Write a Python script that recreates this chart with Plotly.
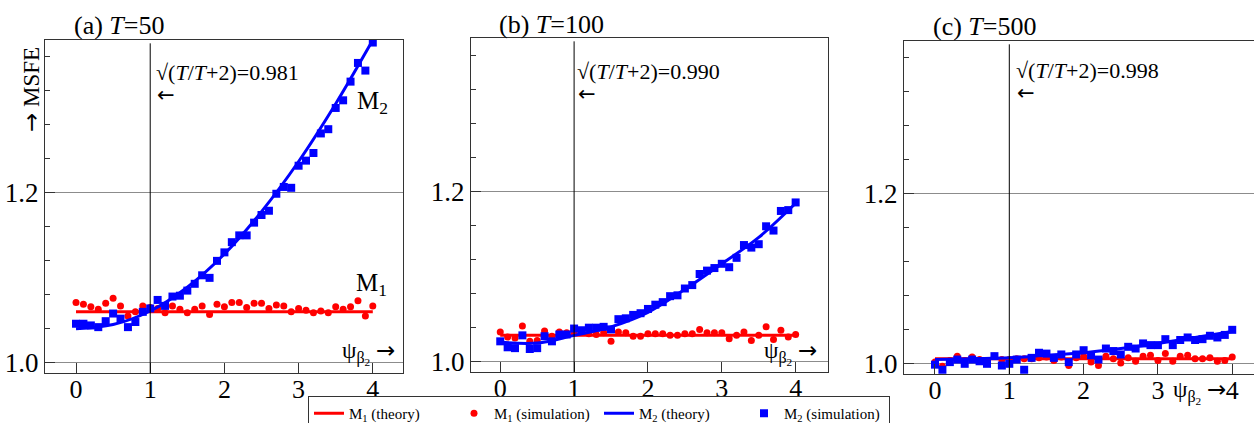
import plotly.graph_objects as go

W, H = 1254, 423
SERIF = "Liberation Serif"
ARROW_FONT = "DejaVu Sans"

# shrinkage parameter grid (simulation points) and grid for the theory curves
psi = [0.0, 0.1, 0.2, 0.3, 0.4, 0.5, 0.6, 0.7, 0.8, 0.9,
       1.0, 1.1, 1.2, 1.3, 1.4, 1.5, 1.6, 1.7, 1.8, 1.9,
       2.0, 2.1, 2.2, 2.3, 2.4, 2.5, 2.6, 2.7, 2.8, 2.9,
       3.0, 3.1, 3.2, 3.3, 3.4, 3.5, 3.6, 3.7, 3.8, 3.9, 4.0]
psi_theory = [0.0, 0.5, 1.0, 1.5, 2.0, 2.5, 3.0, 3.5, 4.0]

# (a) T = 50
a_m1_theory = [1.060, 1.060, 1.060, 1.060, 1.060, 1.060, 1.060, 1.060, 1.060]
a_m2_theory = [1.040, 1.045, 1.061, 1.089, 1.128, 1.178, 1.237, 1.305, 1.380]
a_m1_sim = [1.071, 1.069, 1.066, 1.063, 1.070, 1.076, 1.067, 1.055, 1.060, 1.067,
            1.065, 1.064, 1.059, 1.067, 1.063, 1.059, 1.063, 1.067, 1.057, 1.069,
            1.066, 1.071, 1.071, 1.065, 1.070, 1.070, 1.064, 1.068, 1.067, 1.060,
            1.064, 1.062, 1.059, 1.061, 1.059, 1.066, 1.063, 1.066, 1.073, 1.055, 1.067]
a_m2_sim = [1.046, 1.046, 1.044, 1.042, 1.049, 1.058, 1.052, 1.042, 1.048, 1.060,
            1.064, 1.074, 1.067, 1.078, 1.079, 1.085, 1.093, 1.103, 1.100, 1.120,
            1.130, 1.142, 1.150, 1.150, 1.165, 1.174, 1.179, 1.199, 1.207, 1.206,
            1.232, 1.238, 1.247, 1.270, 1.275, 1.300, 1.309, 1.331, 1.353, 1.344, 1.377]

# (b) T = 100
b_m1_theory = [1.031, 1.031, 1.031, 1.031, 1.031, 1.031, 1.031, 1.031, 1.031]
b_m2_theory = [1.023, 1.022, 1.031, 1.041, 1.058, 1.085, 1.115, 1.146, 1.186]
b_m1_sim = [1.035, 1.029, 1.028, 1.042, 1.024, 1.025, 1.036, 1.030, 1.035, 1.034,
            1.034, 1.035, 1.033, 1.032, 1.034, 1.024, 1.035, 1.034, 1.030, 1.030,
            1.033, 1.033, 1.033, 1.031, 1.031, 1.033, 1.033, 1.038, 1.034, 1.034,
            1.034, 1.027, 1.031, 1.035, 1.025, 1.031, 1.041, 1.026, 1.037, 1.029, 1.032]
b_m2_sim = [1.024, 1.017, 1.016, 1.031, 1.015, 1.016, 1.030, 1.024, 1.032, 1.032,
            1.039, 1.037, 1.040, 1.040, 1.041, 1.038, 1.050, 1.051, 1.055, 1.057,
            1.062, 1.067, 1.070, 1.077, 1.078, 1.086, 1.090, 1.103, 1.107, 1.110,
            1.115, 1.111, 1.122, 1.137, 1.134, 1.138, 1.159, 1.154, 1.177, 1.178, 1.187]

# (c) T = 500
c_m1_theory = [1.006, 1.006, 1.006, 1.006, 1.006, 1.006, 1.006, 1.006, 1.006]
c_m2_theory = [1.005, 1.006, 1.007, 1.010, 1.013, 1.018, 1.024, 1.031, 1.038]
c_m1_sim = [1.002, 0.997, 1.004, 1.009, 1.004, 1.008, 1.005, 1.004, 1.009, 1.005,
            1.005, 1.006, 1.006, 1.006, 1.007, 1.008, 1.004, 1.008, 0.998, 1.007,
            1.009, 1.002, 0.998, 1.009, 1.006, 1.001, 1.007, 1.003, 1.009, 1.010,
            1.004, 1.012, 1.003, 1.009, 1.010, 1.006, 1.006, 1.007, 1.003, 1.004, 1.008]
c_m2_sim = [0.999, 0.993, 1.002, 1.005, 1.000, 1.005, 1.003, 1.000, 1.009, 0.998,
            1.000, 1.005, 0.993, 1.007, 1.013, 1.012, 1.007, 1.011, 1.002, 1.011,
            1.016, 1.010, 1.005, 1.018, 1.015, 1.011, 1.020, 1.018, 1.024, 1.022,
            1.022, 1.029, 1.022, 1.028, 1.031, 1.028, 1.029, 1.033, 1.031, 1.034, 1.040]

panel_titles = ["(a) <i>T</i>=50", "(b) <i>T</i>=100", "(c) <i>T</i>=500"]
ratio_labels = ["0.981", "0.990", "0.998"]
x_ticks = [0, 1, 2, 3, 4]
y_ticks = [1.0, 1.2]
y_tick_text = ["1.0", "1.2"]
y_minor = [1.04, 1.08, 1.12, 1.16, 1.24, 1.28, 1.32, 1.36]

RED = "#ff0000"
BLUE = "#0000ff"
AXIS = "#333333"
GRID = "#8c8c8c"


def px_x(p):
    return p / W


def px_y(p):
    return 1 - p / H


def arrow(ch):
    return f'<span style="font-family:{ARROW_FONT}">{ch}</span>'


# pixel boxes of the three panels: left, right, top, bottom
boxes = [(45, 403, 40, 373), (471, 828, 38, 372), (904, 1254, 41, 374)]
x_ranges = [[-0.418, 4.407], [-0.396, 4.438], [-0.417, 4.293]]
y_range = [0.988, 1.380]

series = [
    (a_m1_theory, a_m1_sim, a_m2_theory, a_m2_sim),
    (b_m1_theory, b_m1_sim, b_m2_theory, b_m2_sim),
    (c_m1_theory, c_m1_sim, c_m2_theory, c_m2_sim),
]

fig = go.Figure()

for i, (m1t, m1s, m2t, m2s) in enumerate(series):
    xa = "x" if i == 0 else f"x{i + 1}"
    ya = "y" if i == 0 else f"y{i + 1}"
    first = i == 0
    fig.add_trace(go.Scatter(
        x=psi_theory, y=m1t, mode="lines", line=dict(color=RED, width=3, shape="spline"),
        name="M<sub>1</sub> (theory)", showlegend=first, xaxis=xa, yaxis=ya))
    fig.add_trace(go.Scatter(
        x=psi, y=m1s, mode="markers", marker=dict(color=RED, size=7, symbol="circle"),
        name="M<sub>1</sub> (simulation)", showlegend=first, xaxis=xa, yaxis=ya))
    fig.add_trace(go.Scatter(
        x=psi_theory, y=m2t, mode="lines", line=dict(color=BLUE, width=3, shape="spline"),
        name="M<sub>2</sub> (theory)", showlegend=first, xaxis=xa, yaxis=ya))
    fig.add_trace(go.Scatter(
        x=psi, y=m2s, mode="markers", marker=dict(color=BLUE, size=8, symbol="square"),
        name="M<sub>2</sub> (simulation)", showlegend=first, xaxis=xa, yaxis=ya))

layout = {}
for i, (l, r, t, b) in enumerate(boxes):
    sfx = "" if i == 0 else str(i + 1)
    layout[f"xaxis{sfx}"] = dict(
        domain=[px_x(l), px_x(r)], range=x_ranges[i], anchor=f"y{sfx}",
        showline=True, linecolor=AXIS, linewidth=1, mirror=True,
        ticks="inside", ticklen=10, tickcolor=AXIS, tickvals=x_ticks,
        tickfont=dict(family=SERIF, size=26, color="black"),
        ticklabelstandoff=-7,
        showgrid=False, zeroline=False)
    layout[f"yaxis{sfx}"] = dict(
        domain=[px_y(b), px_y(t)], range=y_range, anchor=f"x{sfx}",
        showline=True, linecolor=AXIS, linewidth=1, mirror=(i < 2),
        ticks="inside", ticklen=10, tickcolor=AXIS,
        tickvals=y_ticks, ticktext=y_tick_text,
        tickfont=dict(family=SERIF, size=27, color="black"),
        showgrid=True, gridcolor=GRID, gridwidth=1, zeroline=False,
        minor=dict(tickvals=y_minor, ticks="inside", ticklen=5,
                   tickcolor=AXIS, showgrid=False))

shapes = []
annotations = []

title_pos = [(72, 26), (497, 25), (931, 27)]
ratio_pos = [(154, 72), (575, 71), (1014, 70)]
psi_pos = [(340, 352), (762, 352), (1171, 391)]

for i in range(3):
    xa = "x" if i == 0 else f"x{i + 1}"
    ya = "y" if i == 0 else f"y{i + 1}"
    # vertical reference line at psi = 1
    shapes.append(dict(type="line", xref=xa, yref=f"{ya} domain", x0=1, x1=1,
                       y0=0, y1=0.99, line=dict(color="black", width=1)))
    tx, ty = title_pos[i]
    annotations.append(dict(text=panel_titles[i], xref="paper", yref="paper",
                            x=px_x(tx), y=px_y(ty), xanchor="left", yanchor="middle",
                            showarrow=False, font=dict(family=SERIF, size=26, color="black")))
    rx, ry = ratio_pos[i]
    annotations.append(dict(text="√(<i>T</i>/<i>T</i>+2)=" + ratio_labels[i],
                            xref="paper", yref="paper", x=px_x(rx), y=px_y(ry),
                            xanchor="left", yanchor="middle", showarrow=False,
                            font=dict(family=SERIF, size=22, color="black")))
    annotations.append(dict(text="←", xref="paper", yref="paper",
                            x=px_x(rx + 1), y=px_y(ry + 23), xanchor="left",
                            yanchor="middle", showarrow=False,
                            font=dict(family=ARROW_FONT, size=21, color="black")))
    sx, sy = psi_pos[i]
    annotations.append(dict(text="ψ<sub>β<sub>2</sub></sub> " + arrow("→"),
                            xref="paper", yref="paper",
                            x=px_x(sx), y=px_y(sy), xanchor="left", yanchor="middle",
                            showarrow=False, font=dict(family=SERIF, size=23, color="black")))

# curve labels in panel (a)
annotations.append(dict(text="M<sub>2</sub>", xref="paper", yref="paper",
                        x=px_x(355), y=px_y(102), xanchor="left", yanchor="middle",
                        showarrow=False, font=dict(family=SERIF, size=25, color="black")))
annotations.append(dict(text="M<sub>1</sub>", xref="paper", yref="paper",
                        x=px_x(354), y=px_y(284), xanchor="left", yanchor="middle",
                        showarrow=False, font=dict(family=SERIF, size=25, color="black")))
# y-axis caption
annotations.append(dict(text=arrow("→") + " MSFE", xref="paper", yref="paper",
                        x=px_x(31), y=px_y(89), xanchor="center", yanchor="middle",
                        textangle=-90, showarrow=False,
                        font=dict(family=SERIF, size=23, color="black")))

fig.update_layout(
    width=W, height=H,
    margin=dict(l=0, r=0, t=0, b=0, autoexpand=False),
    paper_bgcolor="white", plot_bgcolor="white",
    font=dict(family=SERIF, color="black"),
    shapes=shapes, annotations=annotations,
    legend=dict(orientation="h", x=px_x(308), y=px_y(396), xanchor="left", yanchor="top",
                bordercolor=AXIS, borderwidth=1, bgcolor="white",
                font=dict(family=SERIF, size=15, color="black"),
                entrywidth=100, itemwidth=30, valign="top"),
    **layout,
)

fig.write_html("out.html")
